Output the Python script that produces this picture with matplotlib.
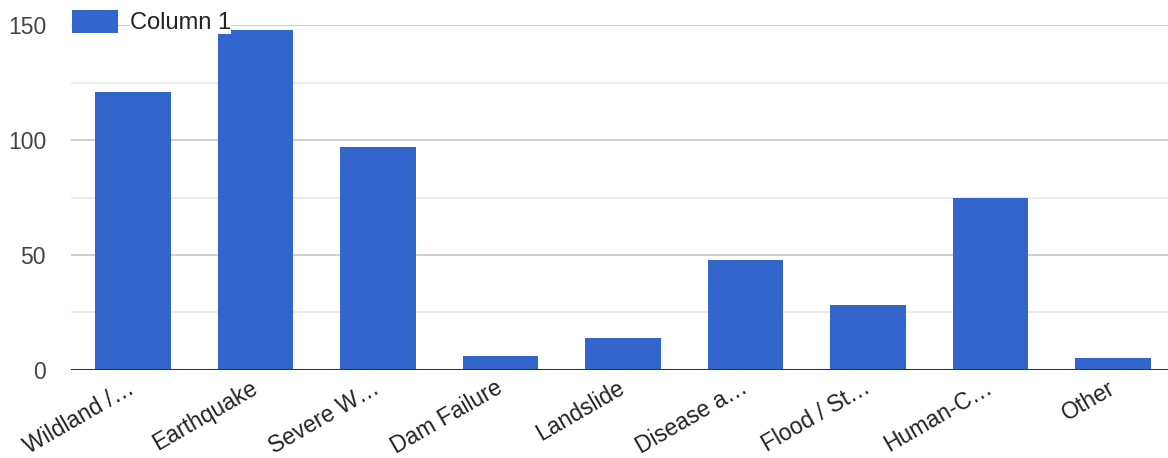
import matplotlib.pyplot as plt
from matplotlib.ticker import MultipleLocator

plt.rcParams['font.family'] = ['Liberation Sans', 'DejaVu Sans']

categories = ['Wildland /…', 'Earthquake', 'Severe W…', 'Dam Failure', 'Landslide',
              'Disease a…', 'Flood / St…', 'Human-C…', 'Other']
values = [121, 148, 97, 6, 14, 48, 28, 75, 5]
series_name = 'Column 1'
bar_color = '#3366cc'

W, H = 1168, 458
fig = plt.figure(figsize=(W / 100, H / 100), dpi=100)
ax = fig.add_axes([71 / W, 1 - 369.7 / H, (W - 71) / W, (369.7 - 25.5) / H])

x = list(range(len(categories)))
ax.bar(x, values, width=0.62, color=bar_color, label=series_name, zorder=3)

ax.set_xlim(-0.506, 8.449)
ax.set_ylim(0, 150)
ax.yaxis.set_major_locator(MultipleLocator(50))
ax.yaxis.set_minor_locator(MultipleLocator(25))
ax.grid(axis='y', which='major', color='#cccccc', lw=1.3, zorder=0)
ax.grid(axis='y', which='minor', color='#ebebeb', lw=1.3, zorder=0)
ax.axhline(0, color='#333333', lw=2.2, zorder=4)

for s in ax.spines.values():
    s.set_visible(False)
ax.tick_params(axis='both', which='both', length=0)
ax.tick_params(axis='y', labelsize=16.5, labelcolor='#444444', pad=18)
ax.set_xticks(x)
ax.set_xticklabels(categories, rotation=30, ha='right', va='center',
                   rotation_mode='anchor', fontsize=16.5, color='#222222')
ax.tick_params(axis='x', pad=12)

leg = ax.legend(loc='upper left', bbox_to_anchor=(72 / W, 1 - 10 / H),
                bbox_transform=fig.transFigure, frameon=False, fontsize=17,
                handlelength=1.95, handleheight=1.1, handletextpad=0.5,
                borderpad=0, borderaxespad=0)
for t in leg.get_texts():
    t.set_color('#222222')
    t.set_bbox(dict(facecolor='white', edgecolor='none', pad=0))

fig.savefig('out.png', dpi=100)
